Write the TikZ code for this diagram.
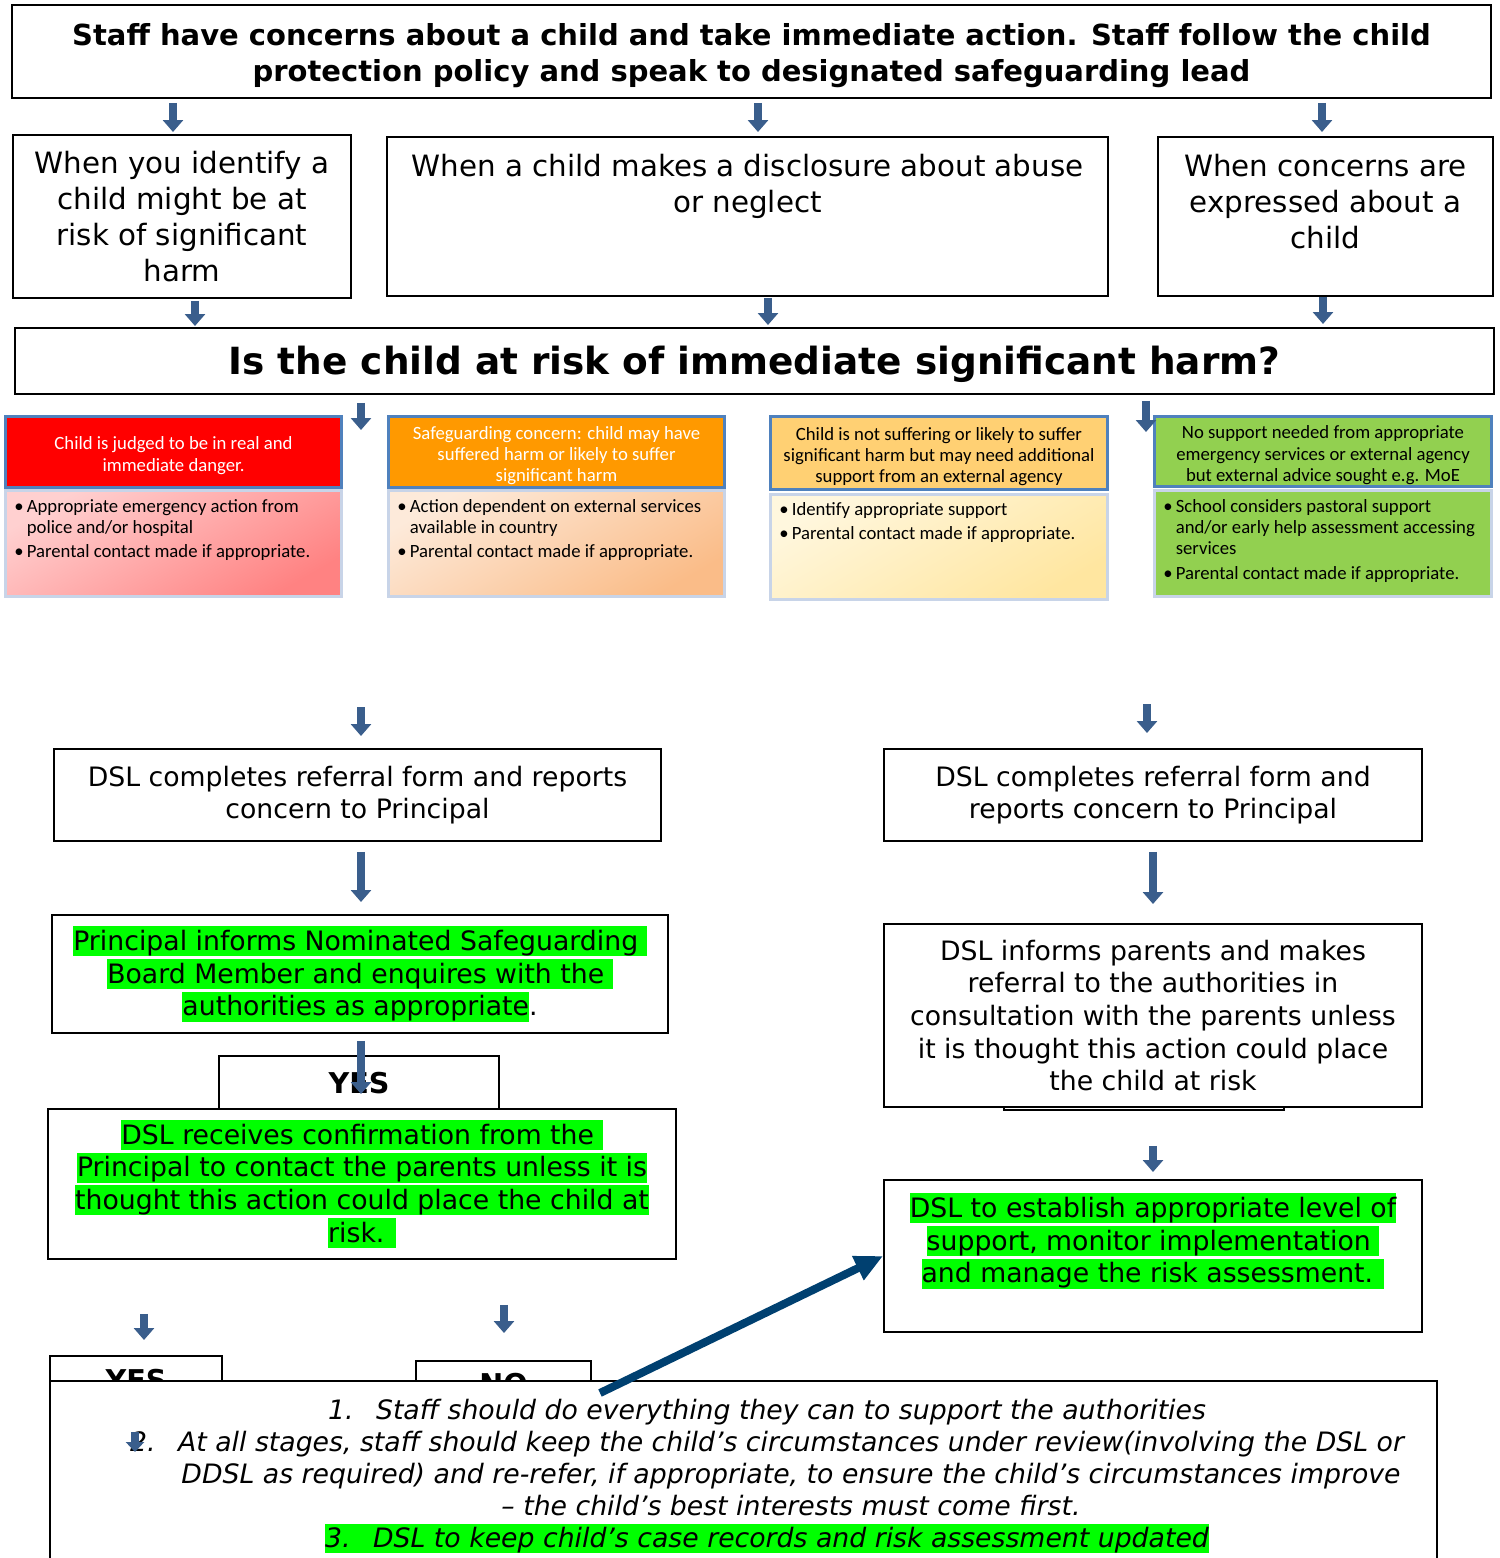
\documentclass[tikz,border=0pt]{standalone}
\usepackage{fontspec}
\setmainfont{DejaVu Sans}
\newfontfamily\calfont{Carlito}
\usetikzlibrary{arrows.meta}

\definecolor{arrowblue}{RGB}{58,94,140}
\definecolor{darkblue}{RGB}{0,64,112}
\definecolor{hlgreen}{RGB}{0,255,0}
\definecolor{hdrblue}{RGB}{79,129,189}
\definecolor{bdyblue}{RGB}{200,212,232}

\newcommand\titlefont{\bfseries\fontsize{16.5}{20.5}\selectfont}
\newcommand\boxfont{\fontsize{16.7}{20.5}\selectfont}
\newcommand\stepfont{\fontsize{15.2}{18.6}\selectfont}
\newcommand\askfont{\bfseries\fontsize{21.3}{24}\selectfont}
\newcommand\smallfont{\calfont\fontsize{10.65}{12.1}\selectfont}
\newcommand\notefont{\itshape\fontsize{15.2}{18.2}\selectfont}
\newcommand\yesfont{\bfseries\fontsize{16.3}{18}\selectfont}
\newcommand\hlg[1]{{\setlength{\fboxsep}{0pt}\colorbox{hlgreen}{\rule[-0.22em]{0pt}{1.12em}#1}}}
\newcommand\hstrut{\rule{0pt}{1.08em}}
\newcommand\bul{\textbullet}

\begin{document}
\begin{tikzpicture}[x=0.02cm, y=0.02cm,
    box/.style={draw, line width=0.04cm, fill=white, inner sep=0pt, align=center},
    txt/.style={anchor=north, inner sep=0pt, align=center},
    hdr/.style={draw=hdrblue, line width=0.06cm, inner sep=0pt, align=center, minimum width=6.74cm, font=\smallfont},
    bdy/.style={draw=bdyblue, line width=0.06cm, minimum width=6.74cm},
    bultxt/.style={anchor=north west, inner sep=0pt, font=\smallfont},
    blk/.style={line width=0.16cm, draw=arrowblue, -{Triangle[width=0.4cm, length=0.24cm]}},
    bigarr/.style={line width=0.16cm, draw=darkblue, -{Triangle[width=0.5cm, length=0.56cm]}}
  ]
  \useasboundingbox (0,0) rectangle (1499,-1558);

  % top of the chart
  \node[box, minimum width=29.58cm, minimum height=1.86cm, font=\titlefont] (top) at (751.5,-51.5)
    {\rule{0pt}{1.04em}Staff have concerns about a child and take immediate action. Staff follow the child\\protection policy and speak to designated safeguarding lead};

  \node[box, minimum width=6.76cm, minimum height=3.26cm, font=\boxfont] (a) at (182,-216.5)
    {When you identify a\\child might be at\\risk of significant\\harm};
  \node[box, minimum width=14.42cm, minimum height=3.18cm] (b) at (747.5,-216.5) {};
  \node[txt, font=\boxfont] (bt) at ([yshift=-0.36cm]b.north)
    {When a child makes a disclosure about abuse\\or neglect};
  \node[box, minimum width=6.70cm, minimum height=3.18cm] (c) at (1325.5,-216.5) {};
  \node[txt, font=\boxfont] (ct) at ([yshift=-0.36cm]c.north)
    {When concerns are\\expressed about a\\child};

  \node[box, minimum width=29.58cm, minimum height=1.32cm, font=\askfont,
    text height=0.73cm, text depth=0.18cm] (q) at (754.5,-361)
    {Is the child at risk of immediate significant harm?};

  \draw[blk, shorten <=0.08cm, shorten >=0.04cm] (173,0 |- top.south) -- (173,0 |- a.north);
  \draw[blk, shorten <=0.08cm, shorten >=0.08cm] (758,0 |- top.south) -- (758,0 |- b.north);
  \draw[blk, shorten <=0.08cm, shorten >=0.08cm] (1322,0 |- top.south) -- (1322,0 |- c.north);
  \draw[blk, shorten <=0.04cm, shorten >=0.02cm] (195,0 |- a.south) -- (195,0 |- q.north);
  \draw[blk, shorten <=0.02cm, shorten >=0.04cm] (768,0 |- b.south) -- (768,0 |- q.north);
  \draw[blk, shorten <=0.00cm, shorten >=0.06cm] (1323,0 |- c.south) -- (1323,0 |- q.north);

  % four outcome boxes
  \node[hdr, fill={rgb,255:red,255;green,0;blue,0}, text=white, minimum height=1.44cm] (redh) at (173.5,-452)
    {\hstrut Child is judged to be in real and\\immediate danger.};
  \node[bdy, minimum height=2.14cm, top color={rgb,255:red,255;green,208;blue,208},
    bottom color={rgb,255:red,255;green,130;blue,130}, shading angle=30] (redb) at (173.5,-543.5) {};
  \node[bultxt] (redt) at (14,-497) {\begin{tabular}{@{}l@{\hspace{1.8pt}}l@{}}
    \bul & Appropriate emergency action from\\ & police and/or hospital\\[1.7pt]
    \bul & Parental contact made if appropriate.\end{tabular}};

  \node[hdr, fill={rgb,255:red,255;green,153;blue,0}, text=white, minimum height=1.44cm] (orah) at (556.5,-452)
    {\hstrut Safeguarding concern: child may have\\suffered harm or likely to suffer\\significant harm};
  \node[bdy, minimum height=2.14cm, top color={rgb,255:red,253;green,234;blue,218},
    bottom color={rgb,255:red,250;green,188;blue,136}, shading angle=30] (orab) at (556.5,-543.5) {};
  \node[bultxt] (orat) at (397,-497) {\begin{tabular}{@{}l@{\hspace{1.8pt}}l@{}}
    \bul & Action dependent on external services\\ & available in country\\[1.7pt]
    \bul & Parental contact made if appropriate.\end{tabular}};

  \node[hdr, fill={rgb,255:red,255;green,208;blue,115}, minimum height=1.48cm] (yelh) at (939,-453)
    {\hstrut Child is not suffering or likely to suffer\\significant harm but may need additional\\support from an external agency};
  \node[bdy, minimum height=2.12cm, top color={rgb,255:red,255;green,247;blue,222},
    bottom color={rgb,255:red,255;green,230;blue,160}, shading angle=30] (yelb) at (939,-547) {};
  \node[bultxt] (yelt) at (779,-500) {\begin{tabular}{@{}l@{\hspace{1.8pt}}l@{}}
    \bul & Identify appropriate support\\[1.7pt]
    \bul & Parental contact made if appropriate.\end{tabular}};

  \node[hdr, fill={rgb,255:red,146;green,208;blue,80}, minimum height=1.42cm] (grnh) at (1323,-451.5)
    {\hstrut No support needed from appropriate\\emergency services or external agency\\but external advice sought e.g. MoE};
  \node[bdy, minimum height=2.14cm, fill={rgb,255:red,146;green,208;blue,80}] (grnb) at (1323,-543.5) {};
  \node[bultxt] (grnt) at (1163,-497) {\begin{tabular}{@{}l@{\hspace{1.8pt}}l@{}}
    \bul & School considers pastoral support\\ & and/or early help assessment accessing\\ & services\\[1.7pt]
    \bul & Parental contact made if appropriate.\end{tabular}};

  \coordinate (qleft) at (361,-430);
  \coordinate (qright) at (1146,-432);
  \draw[blk, shorten <=0.16cm] (361,0 |- q.south) -- (qleft);
  \draw[blk, shorten <=0.12cm] (1146,0 |- q.south) -- (qright);

  % left column
  \node[box, minimum width=12.14cm, minimum height=1.84cm, font=\stepfont] (l1) at (357.5,-795)
    {DSL completes referral form and reports\\concern to Principal};
  \node[box, minimum width=12.32cm, minimum height=2.36cm, font=\stepfont] (l2) at (360,-974)
    {\hlg{Principal informs Nominated Safeguarding }\\\hlg{Board Member and enquires with the }\\\hlg{authorities as appropriate}.};
  \node[box, minimum width=5.6cm, minimum height=1.08cm, font=\yesfont] (yes1) at (359,-1083) {YES};
  \node[box, minimum width=12.56cm, minimum height=3.0cm, font=\stepfont] (l3) at (362,-1184)
    {\hlg{DSL receives confirmation from the }\\\hlg{Principal to contact the parents unless it is}\\\hlg{thought this action could place the child at}\\\hlg{risk. }};

  \coordinate (lin) at (361,-707);
  \draw[blk] (lin) -- ([yshift=0.24cm]361,0 |- l1.north);
  \draw[blk, shorten <=0.2cm, shorten >=0.24cm] (361,0 |- l1.south) -- (361,0 |- l2.north);
  \draw[blk, shorten <=0.14cm, shorten >=0.28cm] (361,0 |- l2.south) -- (361,0 |- l3.north);

  \node[box, minimum width=3.44cm, minimum height=1.28cm, font=\yesfont,
    text depth=0.34cm] (yes2) at (136,-1388) {YES};
  \node[box, minimum width=3.5cm, minimum height=1.18cm, font=\yesfont,
    text depth=0.26cm] (no2) at (503.5,-1390.5) {NO};
  \draw[blk, shorten <=1.08cm, shorten >=0.3cm] (144,0 |- l3.south) -- (144,0 |- yes2.north);
  \draw[blk, shorten <=0.9cm, shorten >=0.54cm] (504,0 |- l3.south) -- (504,0 |- no2.north);

  % right column
  \node[box, minimum width=10.76cm, minimum height=1.84cm, font=\stepfont] (r1) at (1153,-795)
    {DSL completes referral form and\\reports concern to Principal};
  \node[box, minimum width=5.6cm, minimum height=1.4cm] (hid) at (1144,-1075) {};
  \node[box, minimum width=10.76cm, minimum height=3.66cm, font=\stepfont] (r2) at (1153,-1015.5)
    {DSL informs parents and makes\\referral to the authorities in\\consultation with the parents unless\\it is thought this action could place\\the child at risk};
  \node[box, minimum width=10.76cm, minimum height=3.04cm] (r3) at (1153,-1256) {};
  \node[txt, font=\stepfont] (r3t) at ([yshift=-0.28cm]r3.north)
    {\hlg{DSL to establish appropriate level of}\\\hlg{support, monitor implementation }\\\hlg{and manage the risk assessment. }};

  \coordinate (rin) at (1147,-704);
  \draw[blk] (rin) -- ([yshift=0.3cm]1147,0 |- r1.north);
  \draw[blk, shorten <=0.2cm, shorten >=0.38cm] (1153,0 |- r1.south) -- (1153,0 |- r2.north);
  \draw[blk, shorten <=0.76cm, shorten >=0.14cm] (1153,0 |- r2.south) -- (1153,0 |- r3.north);

  % notes at the bottom
  \node[box, minimum width=27.74cm, minimum height=3.98cm] (notes) at (743.5,-1480.5) {};
  \node[txt, font=\notefont] (notest) at ([xshift=0.47cm, yshift=-0.38cm]notes.north)
    {\makebox[0.96cm][l]{1.}Staff should do everything they can to support the authorities\\
     \makebox[0.96cm][l]{2.}At all stages, staff should keep the child’s circumstances under review(involving the DSL or\\
     \hspace*{0.96cm}DDSL as required) and re-refer, if appropriate, to ensure the child’s circumstances improve\\
     \hspace*{0.96cm}– the child’s best interests must come first.\\
     \hlg{\makebox[0.96cm][l]{3.}DSL to keep child’s case records and risk assessment updated}};

  \coordinate (s1) at (135,-1432);
  \coordinate (s2) at (135,-1452);
  \draw[blk, -{Triangle[width=0.36cm, length=0.2cm]}] (s1) -- (s2);

  \coordinate (tail) at (600,-1393);
  \draw[bigarr] (tail) -- (r3.west);
\end{tikzpicture}
\end{document}
